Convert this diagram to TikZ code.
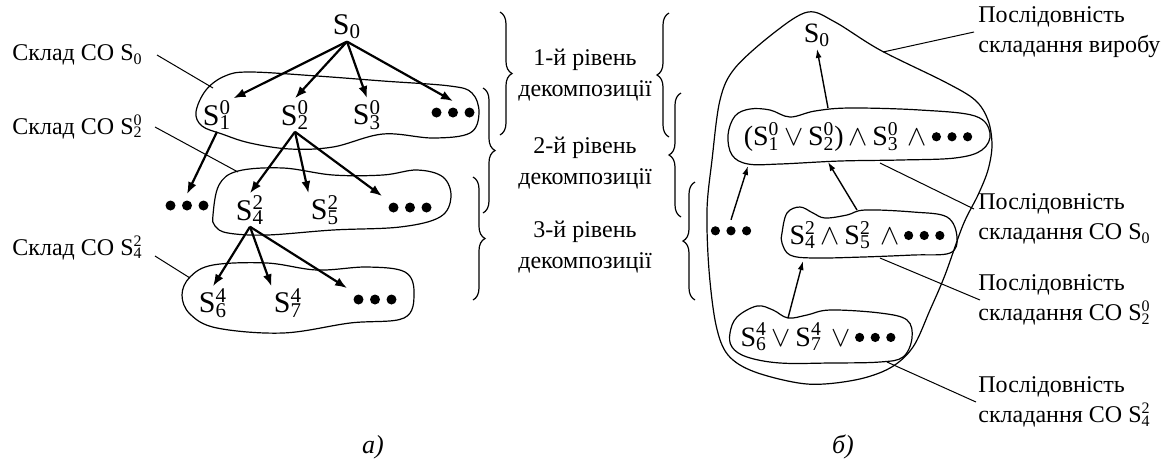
\documentclass[tikz,border=0pt]{standalone}
\usepackage{fontspec}
\setmainfont{Liberation Serif}
\usetikzlibrary{arrows.meta,decorations.pathreplacing}

% S with stacked lower and upper index
\newcommand\Ssub[2]{S\rlap{\textsuperscript{#2}}\textsubscript{#1}}
% three heavy dots (tree) and slightly smaller ones (sequences)
\newcommand\bigdots{\tikz[x=1pt,y=1pt,baseline=-5pt]{\fill (0,0) circle (2.5) (8.25,0) circle (2.5) (16.5,0) circle (2.5);}}
\newcommand\seqdots{\tikz[x=1pt,y=1pt,baseline=-4.5pt]{\fill (0,0) circle (2.3) (7.8,0) circle (2.3) (15.6,0) circle (2.3);}}

\tikzset{
  snode/.style={font=\fontsize{15}{18}\selectfont, inner sep=1pt},
  dnode/.style={inner sep=3pt},
  fnode/.style={font=\fontsize{14}{17}\selectfont, inner sep=1pt},
  lab/.style={font=\fontsize{12}{15}\selectfont, align=left, inner sep=1pt},
  lvl/.style={font=\fontsize{12}{15.5}\selectfont, align=center, inner sep=0pt},
  capt/.style={font=\fontsize{13}{15}\selectfont\itshape},
  tree/.style={-{Latex[length=6pt,width=4.5pt]}, line width=1.1pt},
  seq/.style={-{Latex[length=4.5pt,width=3pt]}, line width=0.7pt},
  blob/.style={line width=0.6pt},
  ptr/.style={line width=0.5pt},
  brc/.style={decorate, decoration={brace, amplitude=6pt}, line width=0.6pt},
}

\begin{document}
\begin{tikzpicture}[x=0.5pt,y=-0.5pt]
\useasboundingbox (0,0) rectangle (1168,463);

% ---------- (a) decomposition tree ----------
\node[snode] (s0)  at (347,27)  {S\textsubscript{0}};
\node[snode] (s10) at (217,115) {\Ssub{1}{0}};
\node[snode] (s20) at (295,115) {\Ssub{2}{0}};
\node[snode] (s30) at (367,115) {\Ssub{3}{0}};
\node[dnode] (d1)  at (453,115) {\bigdots};
\node[dnode] (d2)  at (187,208) {\bigdots};
\node[snode] (s42) at (250,210) {\Ssub{4}{2}};
\node[snode] (s52) at (325,210) {\Ssub{5}{2}};
\node[dnode] (d3)  at (410,210) {\bigdots};
\node[snode] (s64) at (213,303) {\Ssub{6}{4}};
\node[snode] (s74) at (288,303) {\Ssub{7}{4}};
\node[dnode] (d4)  at (375,302) {\bigdots};

\draw[tree] (s0.south) -- (s10.north east);
\draw[tree] (s0.south) -- (s20.north);
\draw[tree] (s0.south) -- (s30.north);
\draw[tree] (s0.south) -- (d1.north);
\draw[tree] (s10.south) -- (d2.north);
\draw[tree] (s20.south) -- (s42.north);
\draw[tree] (s20.south) -- (s52.north west);
\draw[tree] (s20.south) -- (d3.north west);
\draw[tree] (s42.south) -- (s64.north);
\draw[tree] (s42.south) -- (s74.north west);
\draw[tree] (s42.south) -- (d4.north west);

% groups of the assembly units
\draw[blob] plot[smooth cycle, tension=0.6] coordinates {(196,112) (206,90) (225,76) (250,72) (317,76) (383,81) (450,86) (472,93) (479,113) (470,133) (433,138) (383,134) (333,147) (290,149) (250,143) (222,134) (202,126)};
\draw[blob] plot[smooth cycle, tension=0.6] coordinates {(213,215) (219,185) (238,171) (283,168) (333,175) (383,175) (417,170) (443,177) (451,197) (440,217) (400,227) (333,230) (267,235) (228,233) (215,226)};
\draw[blob] plot[smooth cycle, tension=0.6] coordinates {(182,295) (190,277) (213,265) (267,263) (317,270) (367,267) (405,272) (414,293) (404,318) (350,323) (283,333) (217,328) (190,314)};

\coordinate (g1) at (213,88);
\coordinate (g2) at (238,172);
\coordinate (g3) at (190,278);
\node[lab, anchor=west] (la1) at (10,55)  {Склад СО S\textsubscript{0}};
\node[lab, anchor=west] (la2) at (10,127) {Склад СО \Ssub{2}{0}};
\node[lab, anchor=west] (la3) at (10,248) {Склад СО \Ssub{4}{2}};
\draw[ptr] ([xshift=6pt]la1.east) -- (g1);
\draw[ptr] ([xshift=5pt]la2.east) -- (g2);
\draw[ptr] ([xshift=5pt,yshift=-4pt]la3.east) -- (g3);

% ---------- decomposition levels ----------
\draw[brc] (500,12) -- (500,135);
\draw[brc] (483,88) -- (483,213);
\draw[brc] (473,177) -- (473,300);
\node[lvl] (lv1) at (585,75)  {1-й рівень\\декомпозиції};
\node[lvl] (lv2) at (585,163) {2-й рівень\\декомпозиції};
\node[lvl] (lv3) at (585,247) {3-й рівень\\декомпозиції};
\draw[brc] (669,137) -- (669,13);
\draw[brc] (681,217) -- (681,93);
\draw[brc] (695,300) -- (695,182);

% ---------- (b) assembly sequences ----------
\draw[blob] plot[smooth cycle, tension=0.55] coordinates {(808,12) (835,22) (880,50) (945,82) (975,100) (988,120) (992,145) (988,170) (978,195) (963,225) (945,275) (930,310) (913,347) (890,368) (855,380) (807,384) (755,372) (728,355) (716,325) (709,270) (707,210) (712,160) (720,100) (735,68) (775,32)};
\draw[blob] plot[smooth cycle, tension=0.6] coordinates {(728,135) (735,116) (750,109) (770,110) (790,117) (815,111) (850,108) (920,110) (975,116) (990,133) (982,150) (955,158) (900,160) (840,161) (780,164) (748,164) (732,155)};
\draw[blob] plot[smooth cycle, tension=0.6] coordinates {(782,233) (787,213) (800,207) (813,213) (825,218) (847,215) (865,210) (913,212) (947,217) (957,237) (950,253) (913,255) (863,257) (813,258) (790,255) (782,243)};
\draw[blob] plot[smooth cycle, tension=0.6] coordinates {(730,333) (737,317) (757,306) (773,310) (788,318) (807,315) (830,310) (880,313) (907,320) (912,338) (903,357) (880,362) (830,363) (780,363) (747,357) (732,347)};

\node[fnode] (b0) at (817,35) {S\textsubscript{0}};
\node[fnode] (q1) at (858,137) {(\Ssub{1}{0}\,$\vee$\,\Ssub{2}{0})\,$\wedge$\,\Ssub{3}{0}\,\,$\wedge$\,\seqdots};
\node[fnode] (q2) at (867,235) {\Ssub{4}{2}\,$\wedge$\,\Ssub{5}{2}\,\,$\wedge$\,\seqdots};
\node[fnode] (q3) at (818,337) {\Ssub{6}{4}\,$\vee$\,\Ssub{7}{4}\,\,$\vee$\,\seqdots};
\node[dnode] (bd) at (731,233) {\seqdots};

\coordinate (q1t)  at (828,108);
\coordinate (q1bl) at (748,166);
\coordinate (q1bm) at (828,162);
\coordinate (q2t)  at (857,210);
\coordinate (q2b)  at (803,261);
\coordinate (q3t)  at (788,318);
\draw[seq] (q1t) -- (b0.south);
\draw[seq] (bd.north) -- (q1bl);
\draw[seq] (q2t) -- (q1bm);
\draw[seq] (q3t) -- (q2b);

\coordinate (h0) at (883,52);
\coordinate (h1) at (880,163);
\coordinate (h2) at (880,258);
\coordinate (h3) at (887,362);
\node[lab, anchor=west] (r0) at (976,32)  {Послідовність\\складання виробу};
\node[lab, anchor=west] (r1) at (976,219) {Послідовність\\складання СО S\textsubscript{0}};
\node[lab, anchor=west] (r2) at (976,300) {Послідовність\\складання СО \Ssub{2}{0}};
\node[lab, anchor=west] (r3) at (976,402) {Послідовність\\складання СО \Ssub{4}{2}};
\draw[ptr] (h0) -- ([xshift=-1pt]r0.west);
\draw[ptr] (h1) -- ([xshift=-1pt,yshift=5pt]r1.west);
\draw[ptr] (h2) -- ([xshift=2pt]r2.west);
\draw[ptr] (h3) -- (r3.west);

% captions
\node[capt] (ca) at (373,447) {а)};
\node[capt] (cb) at (843,447) {б)};
\end{tikzpicture}
\end{document}
